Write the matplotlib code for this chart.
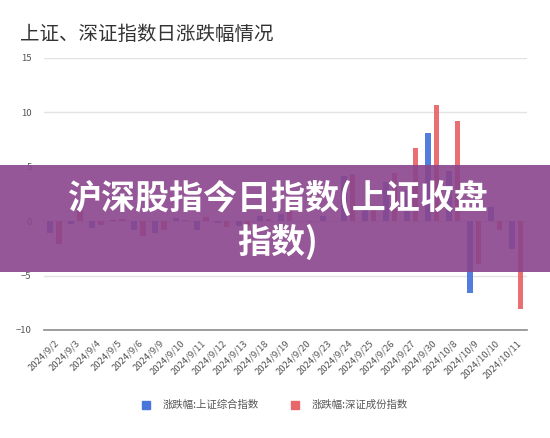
import numpy as np
import matplotlib.pyplot as plt
from matplotlib.patches import Patch, Rectangle

plt.rcParams['font.family'] = ['Noto Sans CJK SC', 'DejaVu Sans']
plt.rcParams['axes.unicode_minus'] = True

dates = ['2024/9/2', '2024/9/3', '2024/9/4', '2024/9/5', '2024/9/6', '2024/9/9',
         '2024/9/10', '2024/9/11', '2024/9/12', '2024/9/13', '2024/9/18', '2024/9/19',
         '2024/9/20', '2024/9/23', '2024/9/24', '2024/9/25', '2024/9/26', '2024/9/27',
         '2024/9/30', '2024/10/8', '2024/10/9', '2024/10/10', '2024/10/11']
sh_change = [-1.07, -0.29, -0.67, 0.14, -0.79, -1.06, 0.28, -0.82, -0.18, -0.4,
             0.49, 0.69, 0.03, 0.44, 4.15, 1.16, 3.61, 2.89, 8.06, 4.59, -6.62, 1.32, -2.55]
sz_change = [-2.13, 0.96, -0.38, 0.24, -1.37, -0.83, 0.10, 0.38, -0.51, -0.41,
             0.21, 1.18, -0.05, 0.04, 4.36, 1.21, 4.44, 6.71, 10.67, 9.2, -3.9, -0.8, -8.1]

title = '上证、深证指数日涨跌幅情况'
banner = '沪深股指今日指数(上证收盘\n指数)'
legend_labels = ['涨跌幅:上证综合指数', '涨跌幅:深证成份指数']
blue = '#4a76dc'
red = '#e8676b'

fig = plt.figure(figsize=(5.5, 4.38), dpi=100)
ax = fig.add_axes([0.08, 0.2466, 0.878, 0.621])

x = np.arange(len(dates))
ax.bar(x - 0.2, sh_change, width=0.27, color=blue, alpha=0.95, zorder=3)
ax.bar(x + 0.2, sz_change, width=0.27, color=red, alpha=0.95, zorder=3)

ax.set_xlim(-0.5, len(dates) - 0.5)
ax.set_ylim(-10, 15)
ax.set_yticks([-10, -5, 0, 5, 10, 15])
ax.yaxis.grid(True, color='#e3e3e3', linewidth=1, zorder=0)
ax.set_axisbelow(True)
for s in ['top', 'right', 'left']:
    ax.spines[s].set_visible(False)
ax.spines['bottom'].set_color('#8c8c8c')
ax.spines['bottom'].set_linewidth(1.2)
ax.tick_params(axis='both', length=0, labelsize=6.8, labelcolor='#555555')
ax.tick_params(axis='y', pad=9)
ax.set_xticks(x)
ax.set_xticklabels(dates, rotation=45, ha='right', rotation_mode='anchor')
ax.tick_params(axis='x', pad=6)

fig.text(0.036, 0.922, title, fontsize=14, color='#333333', va='center')

handles = [Patch(color=blue), Patch(color=red)]
fig.legend(handles, legend_labels, loc='center', bbox_to_anchor=(0.5, 0.075), ncol=2,
           frameon=False, fontsize=7.5, labelcolor='#555555', handlelength=0.8,
           handleheight=0.8, columnspacing=3.1, handletextpad=1.2)

# purple overlay banner
fig.patches.append(Rectangle((0, 1 - 272 / 438), 1, 107 / 438, transform=fig.transFigure,
                             facecolor='#8a458c', alpha=0.9, edgecolor='none', zorder=10))
fig.text(0.505, 1 - 220 / 438, banner, ha='center', va='center', fontsize=24.5,
         fontweight='black', color='white', linespacing=1.25, zorder=11)

fig.savefig('out.png', dpi=100)
